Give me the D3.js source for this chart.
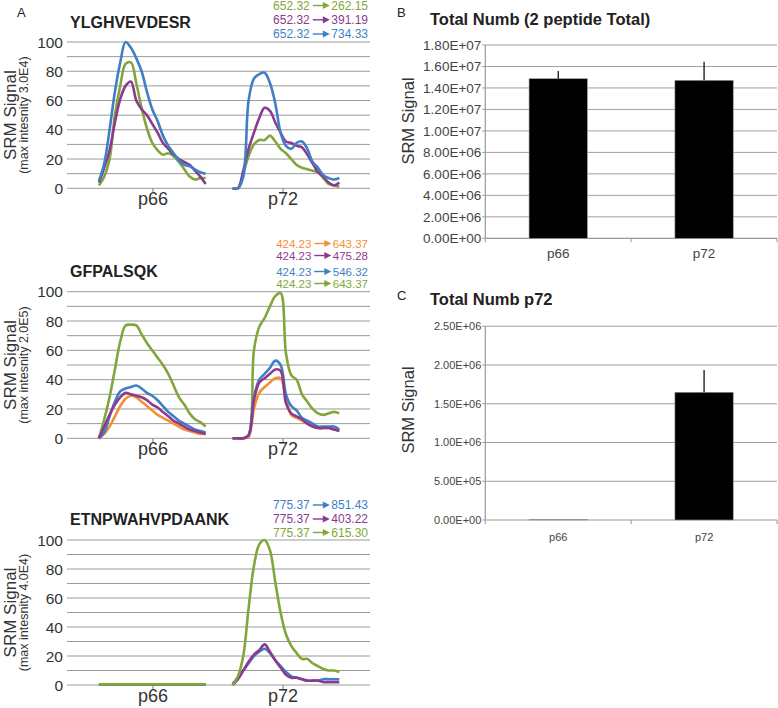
<!DOCTYPE html>
<html><head><meta charset="utf-8">
<script src="https://cdn.jsdelivr.net/npm/d3@7"></script>
<style>body{margin:0;background:#fff} svg{display:block;font-family:"Liberation Sans",Arial,Helvetica,sans-serif}</style>
</head><body><svg id="c" width="778" height="708"></svg>
<script>
// ---------------- DATA ----------------
const groups = ["p66", "p72"];
const peptides = ["YLGHVEVDESR", "GFPALSQK", "ETNPWAHVPDAANK"];
const maxIntensity = ["3.0E4", "2.0E5", "4.0E4"];
const yTicksA = [0, 20, 40, 60, 80, 100];

// transitions: precursor, product, colour key (legend order)
const legend1Prec = ["652.32", "652.32", "652.32"];
const legend1Prod = ["262.15", "391.19", "734.33"];
const legend1Col = ["green", "purple", "blue"];
const legend2Prec = ["424.23", "424.23", "424.23", "424.23"];
const legend2Prod = ["643.37", "475.28", "546.32", "643.37"];
const legend2Col = ["orange", "purple", "blue", "green"];
const legend3Prec = ["775.37", "775.37", "775.37"];
const legend3Prod = ["851.43", "403.22", "615.30"];
const legend3Col = ["blue", "purple", "green"];

// peptide 1 (YLGHVEVDESR), % of max
const pep1_p66_green = [2,8,20,50,70,85,86,72,55,41,31,26,23,24,22,18,13,8,6,7,7];
const pep1_p66_purple = [4,14,26,45,61,70,73,60,54,50,44,38,31,27,23,20,18,16,12,8,3];
const pep1_p66_blue = [5,17,40,66,86,100,96,89,80,66,54,46,36,29,24,19,16,15,13,11,10];
const pep1_p72_green = [0,0,10,22,30,33,33,36,32,27,24,20,16,14,13,12,11,7,3,2,1];
const pep1_p72_purple = [0,0,12,27,38,48,55,53,45,38,32,31,29,28,23,17,11,8,4,2,4];
const pep1_p72_blue = [0,0,8,60,75,78,79,72,58,38,29,27,31,32,27,18,14,9,7,6,7];

// peptide 2 (GFPALSQK)
const pep2_p66_green = [0,13,28,47,66,77,77.5,77,71,65,60,55,50,44,36,28,23,17,13,11,8];
const pep2_p66_orange = [0,3,8,15,22,27,29,28,25,22,19,16,14,12,10,8,6,5,4,3,3];
const pep2_p66_blue = [0,4,15,25,32,34,35,36,34,31,29,26,22,18,15,12,10,8,6,5,4];
const pep2_p66_purple = [0,8,16,23,28,31,30,29,28,26,23,21,18,15,12,10,8,6,5,4,3];
const pep2_p72_green = [0,0,0,2,60,76,82,90,97,99,58,43,40,30,25,20,17,16,17,18,17];
const pep2_p72_orange = [0,0,0,1,20,31,35,38,41,41,28,16,14,12,10,8,7,7,7,6,5];
const pep2_p72_blue = [0,0,0,2,28,40,44,48,53,50,30,22,19,14,12,10,8,8,8,8,6];
const pep2_p72_purple = [0,0,0,2,26,38,41,44,47,46,24,17,15,13,10,8,7,7,7,6,5];

// peptide 3 (ETNPWAHVPDAANK)
const pep3_p66_green = [0.4,0.4,0.4,0.4,0.4,0.4,0.4,0.4,0.4,0.4,0.4,0.4,0.4,0.4,0.4,0.4,0.4,0.4,0.4,0.4,0.4];
const pep3_p66_blue = [0.4,0.4,0.4,0.4,0.4,0.4,0.4,0.4,0.4,0.4,0.4,0.4,0.4,0.4,0.4,0.4,0.4,0.4,0.4,0.4,0.4];
const pep3_p66_purple = [0.4,0.4,0.4,0.4,0.4,0.4,0.4,0.4,0.4,0.4,0.4,0.4,0.4,0.4,0.4,0.4,0.4,0.4,0.4,0.4,0.4];
const pep3_p72_green = [0,6,20,53,82,97,100,93,71,50,35,27,22,18,18,15,13,11,10,10,9];
const pep3_p72_blue = [1,5,10,15,20,23,25,22,17,13,9,6,5,4,3,3,3,4,4,4,4];
const pep3_p72_purple = [0,4,10,16,21,24,28,23,17,12,7,5,5,4,3,3,3,2,2,2,2];

// Panel B: total Numb (2 peptide total)
const barBValues = [1.486e7, 1.471e7];
const barBErrors = [0.072e7, 0.174e7];
const yTicksB = [0, 2e6, 4e6, 6e6, 8e6, 1e7, 1.2e7, 1.4e7, 1.6e7, 1.8e7];
// Panel C: total Numb p72
const barCValues = [6e3, 1.648e6];
const barCErrors = [0, 0.287e6];
const yTicksC = [0, 5e5, 1e6, 1.5e6, 2e6, 2.5e6];

// ---------------- DRAW ----------------
const colors = {green: "#82a63b", purple: "#8c3a90", blue: "#3f7fc3", orange: "#f29036"};
const svg = d3.select("#c");
svg.append("rect").attr("width", 778).attr("height", 708).attr("fill", "#fff");

function panelLetter(t, x, y) {
  svg.append("text").attr("x", x).attr("y", y).attr("font-size", 13).attr("fill", "#222").text(t);
}
panelLetter("A", 17, 17);
panelLetter("B", 397, 17);
panelLetter("C", 397, 300);

function drawChrom(cfg) {
  const g = svg.append("g");
  const L = 67, R = 370;
  const y = d3.scaleLinear().domain([0, 100]).range([cfg.y0, cfg.y100]);
  const x = d3.scalePoint().domain(groups).range([L, R - 1]).padding(0.66);
  const step = x.step();
  // gridlines every 10
  g.selectAll("line.grid").data(d3.range(0, 101, 10)).join("line")
    .attr("x1", L).attr("x2", R).attr("y1", d => y(d)).attr("y2", d => y(d))
    .attr("stroke", "#9a9a9a").attr("stroke-width", 1);
  // y tick labels
  g.selectAll("text.yt").data(yTicksA).join("text")
    .attr("x", 63).attr("y", d => y(d)).attr("dy", "0.36em")
    .attr("text-anchor", "end").attr("font-size", 15.5).attr("fill", "#333").text(d => d);
  // x ticks + labels
  g.selectAll("line.xt").data(groups).join("line")
    .attr("x1", d => x(d)).attr("x2", d => x(d)).attr("y1", cfg.y0).attr("y2", cfg.y0 + 4)
    .attr("stroke", "#777");
  g.selectAll("text.xl").data(groups).join("text")
    .attr("x", d => x(d)).attr("y", cfg.y0 + 17).attr("text-anchor", "middle")
    .attr("font-size", 18).attr("fill", "#333").text(d => d);
  // y label
  const cy = (cfg.y0 + cfg.y100) / 2;
  g.append("text").attr("transform", `translate(15.5,${cy}) rotate(-90)`).attr("text-anchor", "middle")
    .attr("font-size", 17).attr("fill", "#333").text("SRM Signal");
  g.append("text").attr("transform", `translate(28,${cy}) rotate(-90)`).attr("text-anchor", "middle")
    .attr("font-size", 12.5).attr("fill", "#333").text(`(max intesnity ${cfg.maxLab})`);
  // title
  g.append("text").attr("x", 70).attr("y", cfg.titleY).attr("font-size", 16).attr("font-weight", "bold")
    .attr("fill", "#222").text(cfg.title);
  // traces
  const shifts = {p66: -0.005, p72: 0.022};
  cfg.series.forEach(s => {
    groups.forEach(grp => {
      const vals = s[grp];
      const c = x(grp) + shifts[grp] * step;
      const lx = d3.scaleLinear().domain([0, vals.length - 1]).range([c - 0.41 * step, c + 0.41 * step]);
      const line = d3.line().x((d, i) => lx(i)).y(d => y(d)).curve(d3.curveCatmullRom.alpha(0.5));
      g.append("path").attr("d", line(vals)).attr("fill", "none")
        .attr("stroke", colors[s.color]).attr("stroke-width", 2.6).attr("stroke-linejoin", "round");
    });
  });
  // legend
  cfg.legPrec.forEach((p, i) => {
    const col = colors[cfg.legCol[i]];
    const by = cfg.legY[i];
    const prod = g.append("text").attr("x", 368).attr("y", by).attr("text-anchor", "end")
      .attr("font-size", cfg.legFont).attr("fill", col).text(cfg.legProd[i]);
    const w = prod.node().getComputedTextLength();
    const ax2 = 368 - w - 1.5, ax1 = ax2 - 17;
    const ay = by - 4;
    g.append("line").attr("x1", ax1).attr("x2", ax2 - 5).attr("y1", ay).attr("y2", ay)
      .attr("stroke", col).attr("stroke-width", 1.4);
    g.append("path").attr("d", `M${ax2},${ay} L${ax2 - 7},${ay - 3.6} L${ax2 - 7},${ay + 3.6} Z`).attr("fill", col);
    g.append("text").attr("x", ax1 - 3).attr("y", by).attr("text-anchor", "end")
      .attr("font-size", cfg.legFont).attr("fill", col).text(p);
  });
}

drawChrom({
  y0: 188.3, y100: 42, title: peptides[0], titleY: 28, maxLab: maxIntensity[0],
  series: [
    {color: "green", p66: pep1_p66_green, p72: pep1_p72_green},
    {color: "purple", p66: pep1_p66_purple, p72: pep1_p72_purple},
    {color: "blue", p66: pep1_p66_blue, p72: pep1_p72_blue}
  ],
  legPrec: legend1Prec, legProd: legend1Prod, legCol: legend1Col, legY: [9.5, 23.8, 38], legFont: 12
});
drawChrom({
  y0: 438.3, y100: 291.7, title: peptides[1], titleY: 277, maxLab: maxIntensity[1],
  series: [
    {color: "green", p66: pep2_p66_green, p72: pep2_p72_green},
    {color: "orange", p66: pep2_p66_orange, p72: pep2_p72_orange},
    {color: "blue", p66: pep2_p66_blue, p72: pep2_p72_blue},
    {color: "purple", p66: pep2_p66_purple, p72: pep2_p72_purple}
  ],
  legPrec: legend2Prec, legProd: legend2Prod, legCol: legend2Col, legY: [247.5, 259.5, 275.5, 287.5], legFont: 11.5
});
drawChrom({
  y0: 685, y100: 540, title: peptides[2], titleY: 525, maxLab: maxIntensity[2],
  series: [
    {color: "blue", p66: pep3_p66_blue, p72: pep3_p72_blue},
    {color: "purple", p66: pep3_p66_purple, p72: pep3_p72_purple},
    {color: "green", p66: pep3_p66_green, p72: pep3_p72_green}
  ],
  legPrec: legend3Prec, legProd: legend3Prod, legCol: legend3Col, legY: [509, 523, 536.5], legFont: 12
});

function sci(d) {
  const [m, e] = d.toExponential(2).split("e");
  return m + "E" + e[0] + e.slice(1).padStart(2, "0");
}

function drawBars(cfg) {
  const g = svg.append("g");
  const L = 485.3, R = 777;
  const x = d3.scaleBand().domain(groups).range([L, R]).paddingInner(0.6).paddingOuter(0.3);
  const y = d3.scaleLinear().domain([0, cfg.max]).range([cfg.y0, cfg.yTop]);
  g.selectAll("line.grid").data(cfg.ticks.slice(1)).join("line")
    .attr("x1", L).attr("x2", R).attr("y1", d => y(d)).attr("y2", d => y(d))
    .attr("stroke", "#a0a0a0").attr("stroke-width", 1);
  // y axis
  g.append("line").attr("x1", L).attr("x2", L).attr("y1", cfg.y0).attr("y2", cfg.yTop)
    .attr("stroke", "#999").attr("stroke-width", 1.2);
  g.selectAll("line.yt").data(cfg.ticks).join("line")
    .attr("x1", L - 3).attr("x2", L).attr("y1", d => y(d)).attr("y2", d => y(d)).attr("stroke", "#999");
  g.selectAll("text.yt").data(cfg.ticks).join("text")
    .attr("x", L - 4).attr("y", d => y(d)).attr("dy", "0.36em").attr("text-anchor", "end")
    .attr("font-size", cfg.tickFont).attr("fill", "#444").text(sci);
  // x axis
  g.append("line").attr("x1", L).attr("x2", R).attr("y1", cfg.y0).attr("y2", cfg.y0)
    .attr("stroke", "#999").attr("stroke-width", 1.2);
  const bounds = [L, L + (R - L) / 2, R];
  g.selectAll("line.xt").data(bounds).join("line")
    .attr("x1", d => d).attr("x2", d => d).attr("y1", cfg.y0).attr("y2", cfg.y0 + 4).attr("stroke", "#999");
  g.selectAll("text.xl").data(groups).join("text")
    .attr("x", d => x(d) + x.bandwidth() / 2).attr("y", cfg.y0 + cfg.xlabOff).attr("text-anchor", "middle")
    .attr("font-size", cfg.xFont).attr("fill", "#444").text(d => d);
  // bars
  g.selectAll("rect.bar").data(groups).join("rect")
    .attr("x", d => x(d)).attr("width", x.bandwidth())
    .attr("y", (d, i) => y(cfg.values[i])).attr("height", (d, i) => cfg.y0 - y(cfg.values[i]))
    .attr("fill", "#000").attr("stroke", "#9a9a9a").attr("stroke-width", 0.6);
  // error bars (upper)
  g.selectAll("line.err").data(groups).join("line")
    .attr("x1", d => x(d) + x.bandwidth() / 2).attr("x2", d => x(d) + x.bandwidth() / 2)
    .attr("y1", (d, i) => y(cfg.values[i])).attr("y2", (d, i) => y(cfg.values[i] + cfg.errors[i]))
    .attr("stroke", "#000").attr("stroke-width", 1.2);
  // y label
  g.append("text").attr("transform", `translate(414,${cfg.labY}) rotate(-90)`).attr("text-anchor", "middle")
    .attr("font-size", 16.5).attr("fill", "#333").text("SRM Signal");
  g.append("text").attr("x", 430).attr("y", cfg.titleY).attr("font-size", 16.5).attr("font-weight", "bold")
    .attr("fill", "#222").text(cfg.title);
}

drawBars({
  y0: 238.3, yTop: 45, max: 1.8e7, ticks: yTicksB, values: barBValues, errors: barBErrors,
  tickFont: 13.5, xFont: 13.5, xlabOff: 20, labY: 121, title: "Total Numb (2 peptide Total)", titleY: 25
});
drawBars({
  y0: 520, yTop: 326.25, max: 2.5e6, ticks: yTicksC, values: barCValues, errors: barCErrors,
  tickFont: 11, xFont: 11, xlabOff: 21, labY: 410, title: "Total Numb p72", titleY: 305
});
</script>
</body></html>
